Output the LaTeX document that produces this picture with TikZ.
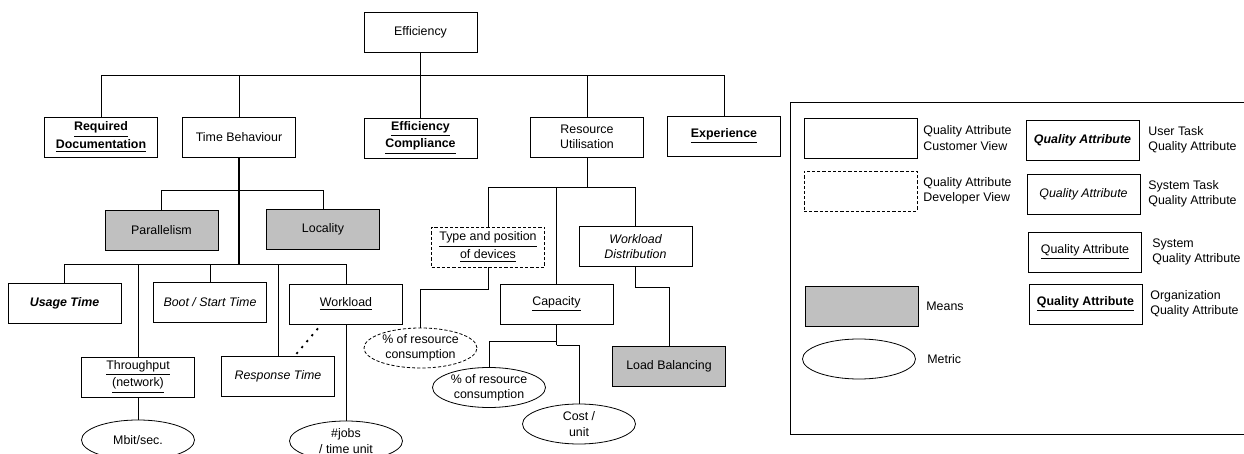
\documentclass[tikz,border=0pt]{standalone}
\usepackage{fontspec}
\setmainfont{Liberation Sans}
\usetikzlibrary{shapes.geometric,calc}

\definecolor{meansgray}{HTML}{C0C0C0}
\newcommand{\dgfont}{\fontsize{6.2pt}{7.6pt}\selectfont}
\newcommand{\uln}[1]{\underline{#1}}

\begin{document}
\begin{tikzpicture}
  [x=0.5pt,y=-0.5pt,line width=0.4pt,
   every node/.style={font=\dgfont},
   qa/.style={draw,rectangle,fill=white,minimum width=56.5pt,minimum height=20pt,inner sep=1pt,align=center},
   devqa/.style={qa,dash pattern=on 1.6pt off 1pt},
   usertask/.style={qa,font=\dgfont\bfseries\itshape},
   systask/.style={qa,font=\dgfont\itshape},
   org/.style={qa,font=\dgfont\bfseries},
   means/.style={qa,fill=meansgray},
   metric/.style={draw,ellipse,fill=white,minimum width=56.5pt,minimum height=20pt,inner sep=0pt,align=center},
   devmetric/.style={metric,dash pattern=on 1.6pt off 1pt},
   legtext/.style={anchor=west,align=left,inner sep=0pt},
   trunk/.style={line width=0.9pt}]
  \useasboundingbox (0,0) rectangle (1244,454);
  \fill[white] (0,0) rectangle (1244,454);

  % top level
  \node[qa] (eff) at (420.5,32.5) {Efficiency};
  \node[org] (reqdoc) at (101,137) {\uln{Required}\\\uln{Documentation}};
  \node[qa] (timeb) at (239,137) {Time Behaviour};
  \node[org] (effcomp) at (420.5,138) {\uln{Efficiency}\\\uln{Compliance}};
  \node[qa] (resutil) at (587,137) {Resource\\Utilisation};
  \node[org] (exper) at (724,136) {\uln{Experience}};

  % time behaviour
  \node[means] (par) at (161.5,230) {Parallelism};
  \node[means] (loc) at (323,229) {Locality};
  \node[usertask] (usage) at (64.5,303) {Usage Time};
  \node[systask] (boot) at (210,302) {Boot / Start Time};
  \node[qa] (workload) at (346,304) {\uln{Workload}};
  \node[qa] (through) at (138,377) {\uln{Throughput}\\\uln{(network)}};
  \node[systask] (response) at (278,376) {Response Time};
  \node[metric] (mbit) at (138,440) {Mbit/sec.};
  \node[metric] (jobs) at (346,441) {\#jobs\\/ time unit};

  % resource utilisation
  \node[devqa] (typepos) at (488,247) {\uln{Type and position}\\\uln{of devices}};
  \node[qa] (capacity) at (556.5,304) {\uln{Capacity}};
  \node[systask] (wldist) at (635.5,246.5) {Workload\\Distribution};
  \node[means] (loadbal) at (669,366.5) {Load Balancing};
  \node[devmetric] (rc1) at (420.5,348) {\% of resource\\consumption};
  \node[metric] (rc2) at (489,387.5) {\% of resource\\consumption};
  \node[metric] (cost) at (579,424) {Cost /\\unit};

  \coordinate (bustop) at (420.5,75);
  \coordinate (busmeans) at (239,190);
  \coordinate (bustime) at (239,264);
  \coordinate (busres) at (587,187);

  \draw (eff.south) -- (bustop);
  \foreach \kid in {reqdoc,timeb,effcomp,resutil,exper}
    \draw (\kid.north) |- (bustop);

  \draw[trunk] (timeb.south) -- (bustime);
  \foreach \kid in {par,loc}
    \draw (\kid.north) |- (busmeans);
  \foreach \kid in {usage,through,boot,response,workload}
    \draw (\kid.north) |- (bustime);
  \draw (through.south) -- (mbit.north);
  \draw (workload.south) -- (jobs.north);
  \draw[line width=0.9pt,dash pattern=on 1.1pt off 2.8pt]
    ($(workload.south)+(-28,4)$) -- ($(response.north)+(17,0)$);

  \draw (resutil.south) -- (busres);
  \foreach \kid in {typepos,capacity,wldist}
    \draw (\kid.north) |- (busres);
  \draw (typepos.south) -- ++(0,22) -| (rc1.north);
  \draw (wldist.south) -- ++(0,21) -| (loadbal.north);
  \draw[trunk] (capacity.south) -- ++(0,21);
  \draw ($(capacity.south)+(0,17)$) -| (rc2.north);
  \draw ($(capacity.south)+(0,21)$) -| (cost.north);

  % legend
  \draw (790,102) rectangle (1260,434);
  \node[qa] (lcust) at (860.5,138) {};
  \node[legtext] (lcusttext) at (923,138) {Quality Attribute\\Customer View};
  \node[devqa] (ldev) at (860.5,191) {};
  \node[legtext] (ldevtext) at (923,191) {Quality Attribute\\Developer View};
  \node[means] (lmeans) at (862,306) {};
  \node[legtext] (lmeanstext) at (926,306) {Means};
  \node[metric] (lmetric) at (859,359) {};
  \node[legtext] (lmetrictext) at (927,359) {Metric};
  \node[usertask] (luser) at (1082.5,140) {Quality Attribute};
  \node[legtext] (lusertext) at (1148,140) {User Task\\Quality Attribute};
  \node[systask] (lsystask) at (1083.5,194) {Quality Attribute};
  \node[legtext] (lsystasktext) at (1148,194) {System Task\\Quality Attribute};
  \node[qa] (lsys) at (1085,252) {\uln{Quality Attribute}};
  \node[legtext] (lsystext) at (1152,252) {System\\Quality Attribute};
  \node[org] (lorg) at (1085.5,304) {\uln{Quality Attribute}};
  \node[legtext] (lorgtext) at (1150,304) {Organization\\Quality Attribute};

\end{tikzpicture}
\end{document}
